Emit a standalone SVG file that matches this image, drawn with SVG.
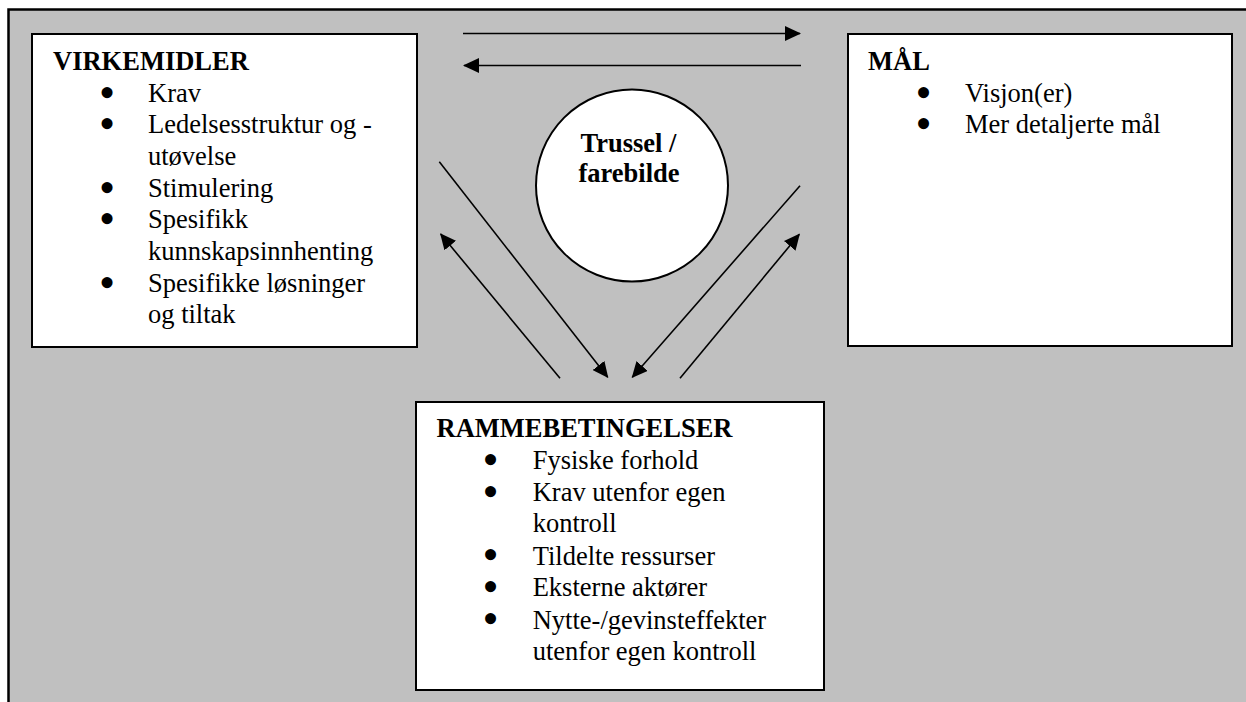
<svg xmlns="http://www.w3.org/2000/svg" width="1246" height="702" viewBox="0 0 1246 702">
<style>
.box{fill:#fff;stroke:#000;stroke-width:2}
.t{font-family:"Liberation Serif","Times New Roman",serif;font-size:26.5px;fill:#000}
.u{font-family:"Liberation Serif","Times New Roman",serif;font-size:46px;fill:#000}
.b{font-weight:bold}
.c{stroke:#000;stroke-width:1.6;fill:none}
</style>
<defs>
<marker id="ah" markerUnits="userSpaceOnUse" markerWidth="16" markerHeight="15" refX="15" refY="7.5" orient="auto" viewBox="0 0 16 15">
<path d="M0,0 L16,7.5 L0,15 z" fill="#000"/>
</marker>
</defs>
<rect x="0" y="0" width="1246" height="702" fill="#fff"/>
<rect id="frame" x="8.5" y="9.5" width="1260" height="720" fill="#c0c0c0" stroke="#000" stroke-width="2.5"/>
<g id="connectors">
<line class="c" x1="463" y1="33.5" x2="800" y2="33.5" marker-end="url(#ah)"/>
<line class="c" x1="801" y1="65.5" x2="464" y2="65.5" marker-end="url(#ah)"/>
<line class="c" x1="439.3" y1="161.7" x2="607.7" y2="377.3" marker-end="url(#ah)"/>
<line class="c" x1="560" y1="378.3" x2="440.7" y2="234" marker-end="url(#ah)"/>
<line class="c" x1="800" y1="185.7" x2="632.3" y2="377.3" marker-end="url(#ah)"/>
<line class="c" x1="680" y1="378.3" x2="799.3" y2="234.3" marker-end="url(#ah)"/>
</g>
<g id="virkemidler">
<rect class="box" x="32" y="34" width="385" height="313"/>
<text class="t b" x="53" y="70">VIRKEMIDLER</text>
<text class="u" x="99" y="107.5">•</text><text class="t" x="148" y="101.7">Krav</text>
<text class="u" x="99" y="139.1">•</text><text class="t" x="148" y="133.3">Ledelsesstruktur og -</text>
<text class="t" x="148" y="165">utøvelse</text>
<text class="u" x="99" y="202.5">•</text><text class="t" x="148" y="196.7">Stimulering</text>
<text class="u" x="99" y="234.1">•</text><text class="t" x="148" y="228.3">Spesifikk</text>
<text class="t" x="148" y="260">kunnskapsinnhenting</text>
<text class="u" x="99" y="297.5">•</text><text class="t" x="148" y="291.7">Spesifikke løsninger</text>
<text class="t" x="148" y="323.3">og tiltak</text>
</g>
<g id="maal">
<rect class="box" x="848" y="34" width="384" height="312"/>
<text class="t b" x="868" y="69.5">MÅL</text>
<text class="u" x="915.5" y="107.5">•</text><text class="t" x="965" y="101.7">Visjon(er)</text>
<text class="u" x="915.5" y="139.1">•</text><text class="t" x="965" y="133.3">Mer detaljerte mål</text>
</g>
<g id="trussel">
<circle cx="632" cy="185.5" r="96" fill="#fff" stroke="#000" stroke-width="2"/>
<text class="t b" x="628.5" y="151.7" text-anchor="middle">Trussel /</text>
<text class="t b" x="629" y="181.7" text-anchor="middle">farebilde</text>
</g>
<g id="rammebetingelser">
<rect class="box" x="416" y="402" width="408" height="288"/>
<text class="t b" x="436.5" y="437.3">RAMMEBETINGELSER</text>
<text class="u" x="482.5" y="475.1">•</text><text class="t" x="532.7" y="469.3">Fysiske forhold</text>
<text class="u" x="482.5" y="506.8">•</text><text class="t" x="532.7" y="501">Krav utenfor egen</text>
<text class="t" x="532.7" y="532.3">kontroll</text>
<text class="u" x="482.5" y="570.3">•</text><text class="t" x="532.7" y="564.5">Tildelte ressurser</text>
<text class="u" x="482.5" y="602.1">•</text><text class="t" x="532.7" y="596.3">Eksterne aktører</text>
<text class="u" x="482.5" y="634.3">•</text><text class="t" x="532.7" y="628.5">Nytte-/gevinsteffekter</text>
<text class="t" x="532.7" y="660">utenfor egen kontroll</text>
</g>
</svg>
